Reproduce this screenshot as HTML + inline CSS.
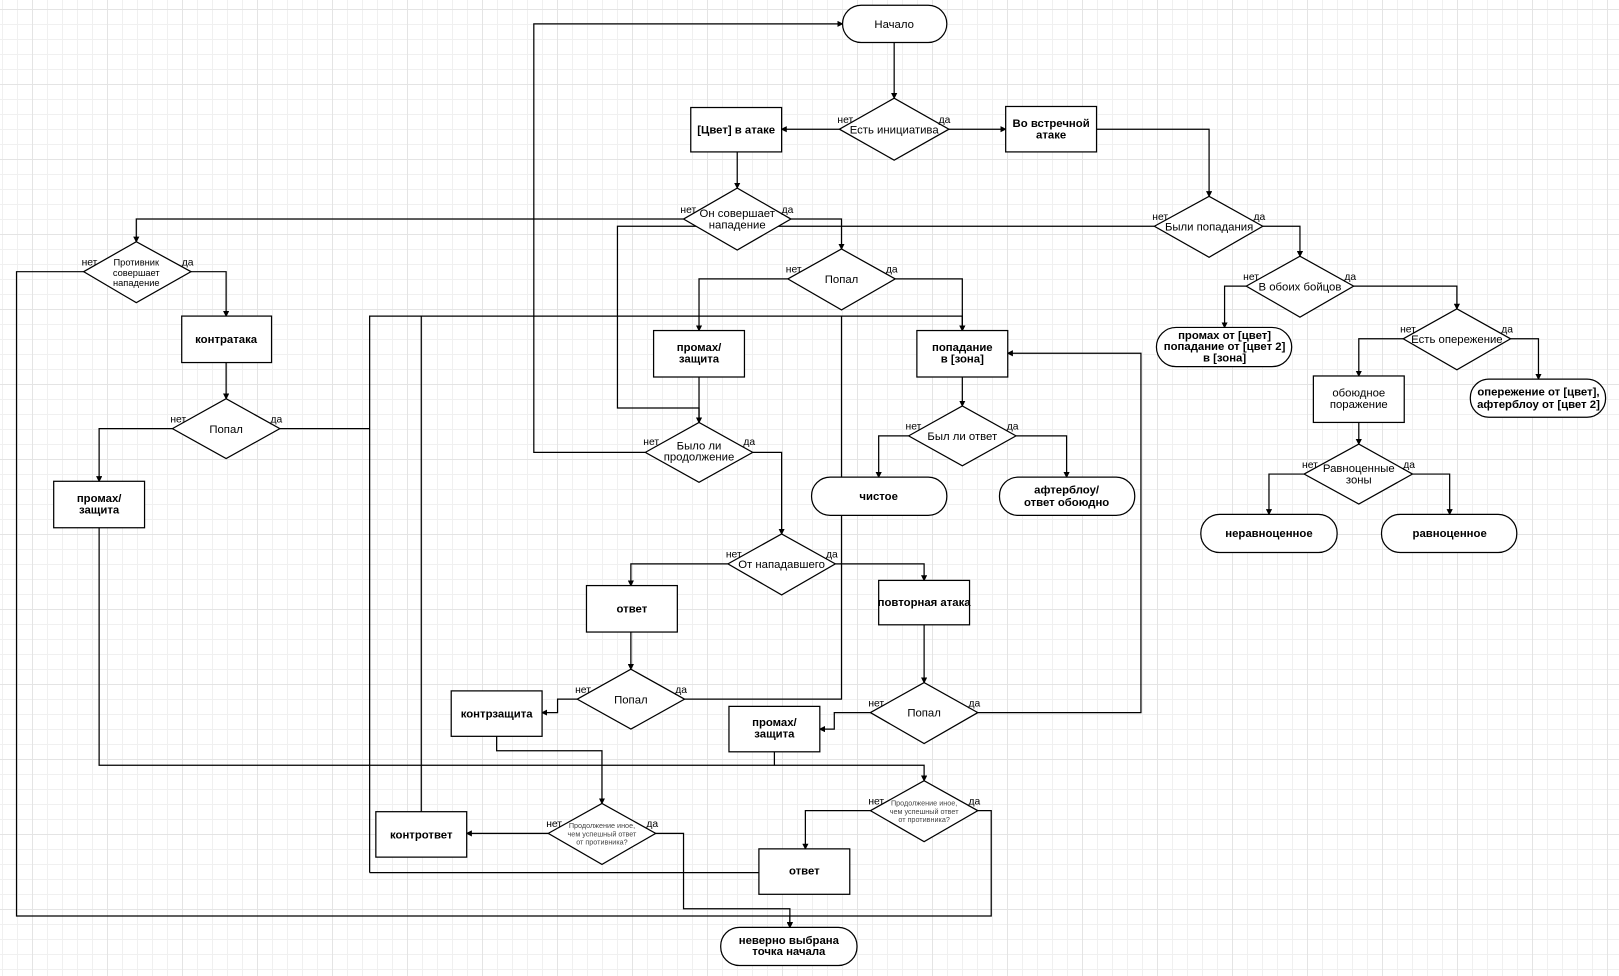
<!DOCTYPE html>
<html><head><meta charset="utf-8"><style>
html,body{margin:0;padding:0;background:#fff}
#w{position:relative;width:1619px;height:976px;overflow:hidden;
background-color:#fff;
background-image:
linear-gradient(to right,#e4e4e4 1px,transparent 1px),
linear-gradient(to bottom,#e4e4e4 1px,transparent 1px),
linear-gradient(to right,#f0f0f0 1px,transparent 1px),
linear-gradient(to bottom,#f0f0f0 1px,transparent 1px);
background-size:75px 75px,75px 75px,15px 15px,15px 15px;
background-position:32px 9px,32px 9px,2px 9px,2px 9px;}
svg{position:absolute;left:0;top:0}
text{font-family:"Liberation Sans",sans-serif;fill:#000}
.b{font-weight:bold;font-size:11px}
.n{font-size:11px}
.s{font-size:7px;fill:#444}
.l{font-size:10px}
</style></head><body><div id="w">
<svg width="1619" height="976" viewBox="0 0 1568 945">
<defs><marker id="a" markerWidth="6" markerHeight="6" refX="5" refY="3" orient="auto" markerUnits="userSpaceOnUse"><path d="M0,0 L6,3 L0,6z" fill="#000"/></marker></defs>
<g fill="none" stroke="#000" stroke-width="1.2">
<path d="M866,41V95" marker-end="url(#a)"/>
<path d="M813,125H757" marker-end="url(#a)"/>
<path d="M919,125H974" marker-end="url(#a)"/>
<path d="M714,147V182" marker-end="url(#a)"/>
<path d="M1062,125H1171V190" marker-end="url(#a)"/>
<path d="M662,212H132V234" marker-end="url(#a)"/>
<path d="M766,212H815V241" marker-end="url(#a)"/>
<path d="M1118,219H598V395H677V409" marker-end="url(#a)"/>
<path d="M1223,219H1259V248" marker-end="url(#a)"/>
<path d="M81,263H16V887H960V785H947"/>
<path d="M765,887V898" marker-end="url(#a)"/>
<path d="M635,807H662V880H765V898" marker-end="url(#a)"/>
<path d="M185,263H219V306" marker-end="url(#a)"/>
<path d="M219,351V386" marker-end="url(#a)"/>
<path d="M167,415H96V466" marker-end="url(#a)"/>
<path d="M271,415H358"/>
<path d="M358,845V306H932V320" marker-end="url(#a)"/>
<path d="M358,845H735"/>
<path d="M408,786V306"/>
<path d="M663,677H815V306"/>
<path d="M867,270H932V320" marker-end="url(#a)"/>
<path d="M763,270H677V320" marker-end="url(#a)"/>
<path d="M677,365V409" marker-end="url(#a)"/>
<path d="M625,438H517V23H816" marker-end="url(#a)"/>
<path d="M729,438H757V517" marker-end="url(#a)"/>
<path d="M932,365V393" marker-end="url(#a)"/>
<path d="M880,422H851V462" marker-end="url(#a)"/>
<path d="M984,422H1033V462" marker-end="url(#a)"/>
<path d="M1207,277H1186V317" marker-end="url(#a)"/>
<path d="M1311,277H1411V299" marker-end="url(#a)"/>
<path d="M1359,328H1316V364" marker-end="url(#a)"/>
<path d="M1463,328H1490V367" marker-end="url(#a)"/>
<path d="M1316,409V430" marker-end="url(#a)"/>
<path d="M1263,459H1229V498" marker-end="url(#a)"/>
<path d="M1368,459H1404V498" marker-end="url(#a)"/>
<path d="M705,546H611V567" marker-end="url(#a)"/>
<path d="M809,546H895V562" marker-end="url(#a)"/>
<path d="M611,612V648" marker-end="url(#a)"/>
<path d="M559,677H540V690H525" marker-end="url(#a)"/>
<path d="M895,605V661" marker-end="url(#a)"/>
<path d="M843,690H808V706H794" marker-end="url(#a)"/>
<path d="M947,690H1105V342H976" marker-end="url(#a)"/>
<path d="M481,713V727H583V778" marker-end="url(#a)"/>
<path d="M750,728V741H895V756" marker-end="url(#a)"/>
<path d="M96,511V741H750"/>
<path d="M843,785H780V822" marker-end="url(#a)"/>
<path d="M531,807H452" marker-end="url(#a)"/>
</g>
<g fill="#fff" stroke="#000" stroke-width="1.2">
<rect x="816" y="5" width="101" height="36" rx="18"/>
<polygon points="813,125 866,95 919,125 866,155"/>
<rect x="669" y="104" width="88" height="43"/>
<rect x="974" y="103" width="88" height="44"/>
<polygon points="662,212 714,182 766,212 714,242"/>
<polygon points="1118,219 1171,190 1223,219 1171,249"/>
<polygon points="81,263 132,234 185,263 132,293"/>
<polygon points="763,270 815,241 867,270 815,300"/>
<polygon points="1207,277 1259,248 1311,277 1259,307"/>
<rect x="176" y="306" width="87" height="45"/>
<rect x="633" y="320" width="88" height="45"/>
<rect x="888" y="320" width="88" height="45"/>
<rect x="1120" y="317" width="131" height="38" rx="19"/>
<polygon points="1359,328 1411,299 1463,328 1411,358"/>
<rect x="1272" y="364" width="88" height="45"/>
<rect x="1424" y="367" width="131" height="37" rx="18"/>
<polygon points="167,415 219,386 271,415 219,444"/>
<polygon points="625,438 677,409 729,438 677,467"/>
<polygon points="880,422 932,393 984,422 932,451"/>
<polygon points="1263,459 1316,430 1368,459 1316,488"/>
<rect x="52" y="466" width="88" height="45"/>
<rect x="786" y="462" width="131" height="37" rx="18"/>
<rect x="968" y="462" width="131" height="37" rx="18"/>
<rect x="1163" y="498" width="132" height="37" rx="18"/>
<rect x="1338" y="498" width="131" height="37" rx="18"/>
<polygon points="705,546 757,517 809,546 757,576"/>
<rect x="568" y="567" width="88" height="45"/>
<rect x="851" y="562" width="88" height="43"/>
<polygon points="559,677 611,648 663,677 611,706"/>
<polygon points="843,690 895,661 947,690 895,720"/>
<rect x="437" y="669" width="88" height="44"/>
<rect x="706" y="684" width="88" height="44"/>
<polygon points="843,785 895,756 947,785 895,815"/>
<polygon points="531,807 583,778 635,807 583,837"/>
<rect x="364" y="786" width="88" height="44"/>
<rect x="735" y="822" width="88" height="44"/>
<rect x="698" y="898" width="132" height="37" rx="18"/>
</g>
<g text-anchor="middle">
<text class="n" x="866" y="27">Начало</text>
<text class="n" x="866" y="129">Есть инициатива</text>
<text class="b" x="713" y="129">[Цвет] в атаке</text>
<text class="b" x="1018" y="123">Во встречной</text><text class="b" x="1018" y="134">атаке</text>
<text class="n" x="714" y="210">Он совершает</text><text class="n" x="714" y="221">нападение</text>
<text class="n" x="1171" y="223">Были попадания</text>
<text class="n" x="132" y="257" style="font-size:9px">Противник</text><text class="n" x="132" y="267" style="font-size:9px">совершает</text><text class="n" x="132" y="277" style="font-size:9px">нападение</text>
<text class="n" x="815" y="274">Попал</text>
<text class="n" x="1259" y="281">В обоих бойцов</text>
<text class="b" x="219" y="332">контратака</text>
<text class="b" x="677" y="340">промах/</text><text class="b" x="677" y="351">защита</text>
<text class="b" x="932" y="340">попадание</text><text class="b" x="932" y="351">в [зона]</text>
<text class="b" x="1186" y="328">промах от [цвет]</text><text class="b" x="1186" y="339">попадание от [цвет 2]</text><text class="b" x="1186" y="350">в [зона]</text>
<text class="n" x="1411" y="332">Есть опережение</text>
<text class="n" x="1316" y="384">обоюдное</text><text class="n" x="1316" y="395">поражение</text>
<text class="b" x="1490" y="383">опережение от [цвет],</text><text class="b" x="1490" y="395">афтерблоу от [цвет 2]</text>
<text class="n" x="219" y="419">Попал</text>
<text class="n" x="677" y="435">Было ли</text><text class="n" x="677" y="446">продолжение</text>
<text class="n" x="932" y="426">Был ли ответ</text>
<text class="n" x="1316" y="457">Равноценные</text><text class="n" x="1316" y="468">зоны</text>
<text class="b" x="96" y="486">промах/</text><text class="b" x="96" y="497">защита</text>
<text class="b" x="851" y="484">чистое</text>
<text class="b" x="1033" y="478">афтерблоу/</text><text class="b" x="1033" y="490">ответ обоюдно</text>
<text class="b" x="1229" y="520">неравноценное</text>
<text class="b" x="1404" y="520">равноценное</text>
<text class="n" x="757" y="550">От нападавшего</text>
<text class="b" x="612" y="593">ответ</text>
<text class="b" x="895" y="587">повторная атака</text>
<text class="n" x="611" y="681">Попал</text>
<text class="n" x="895" y="694">Попал</text>
<text class="b" x="481" y="695">контрзащита</text>
<text class="b" x="750" y="703">промах/</text><text class="b" x="750" y="714">защита</text>
<text class="s" x="895" y="780">Продолжение иное,</text><text class="s" x="895" y="788">чем успешный ответ</text><text class="s" x="895" y="796">от противника?</text>
<text class="s" x="583" y="802">Продолжение иное,</text><text class="s" x="583" y="810">чем успешный ответ</text><text class="s" x="583" y="818">от противника?</text>
<text class="b" x="408" y="812">контрответ</text>
<text class="b" x="779" y="847">ответ</text>
<text class="b" x="764" y="914">неверно выбрана</text><text class="b" x="764" y="925">точка начала</text>
</g>
<g class="l">
<text class="l" x="811" y="119">нет</text><text class="l" x="909" y="119">да</text>
<text class="l" x="659" y="206">нет</text><text class="l" x="757" y="206">да</text>
<text class="l" x="1116" y="213">нет</text><text class="l" x="1214" y="213">да</text>
<text class="l" x="79" y="257">нет</text><text class="l" x="176" y="257">да</text>
<text class="l" x="761" y="264">нет</text><text class="l" x="858" y="264">да</text>
<text class="l" x="1204" y="271">нет</text><text class="l" x="1302" y="271">да</text>
<text class="l" x="1356" y="322">нет</text><text class="l" x="1454" y="322">да</text>
<text class="l" x="165" y="409">нет</text><text class="l" x="262" y="409">да</text>
<text class="l" x="623" y="431">нет</text><text class="l" x="720" y="431">да</text>
<text class="l" x="877" y="416">нет</text><text class="l" x="975" y="416">да</text>
<text class="l" x="1261" y="453">нет</text><text class="l" x="1359" y="453">да</text>
<text class="l" x="703" y="540">нет</text><text class="l" x="800" y="540">да</text>
<text class="l" x="557" y="671">нет</text><text class="l" x="654" y="671">да</text>
<text class="l" x="841" y="684">нет</text><text class="l" x="938" y="684">да</text>
<text class="l" x="841" y="779">нет</text><text class="l" x="938" y="779">да</text>
<text class="l" x="529" y="801">нет</text><text class="l" x="626" y="801">да</text>
</g>
</svg></div></body></html>
